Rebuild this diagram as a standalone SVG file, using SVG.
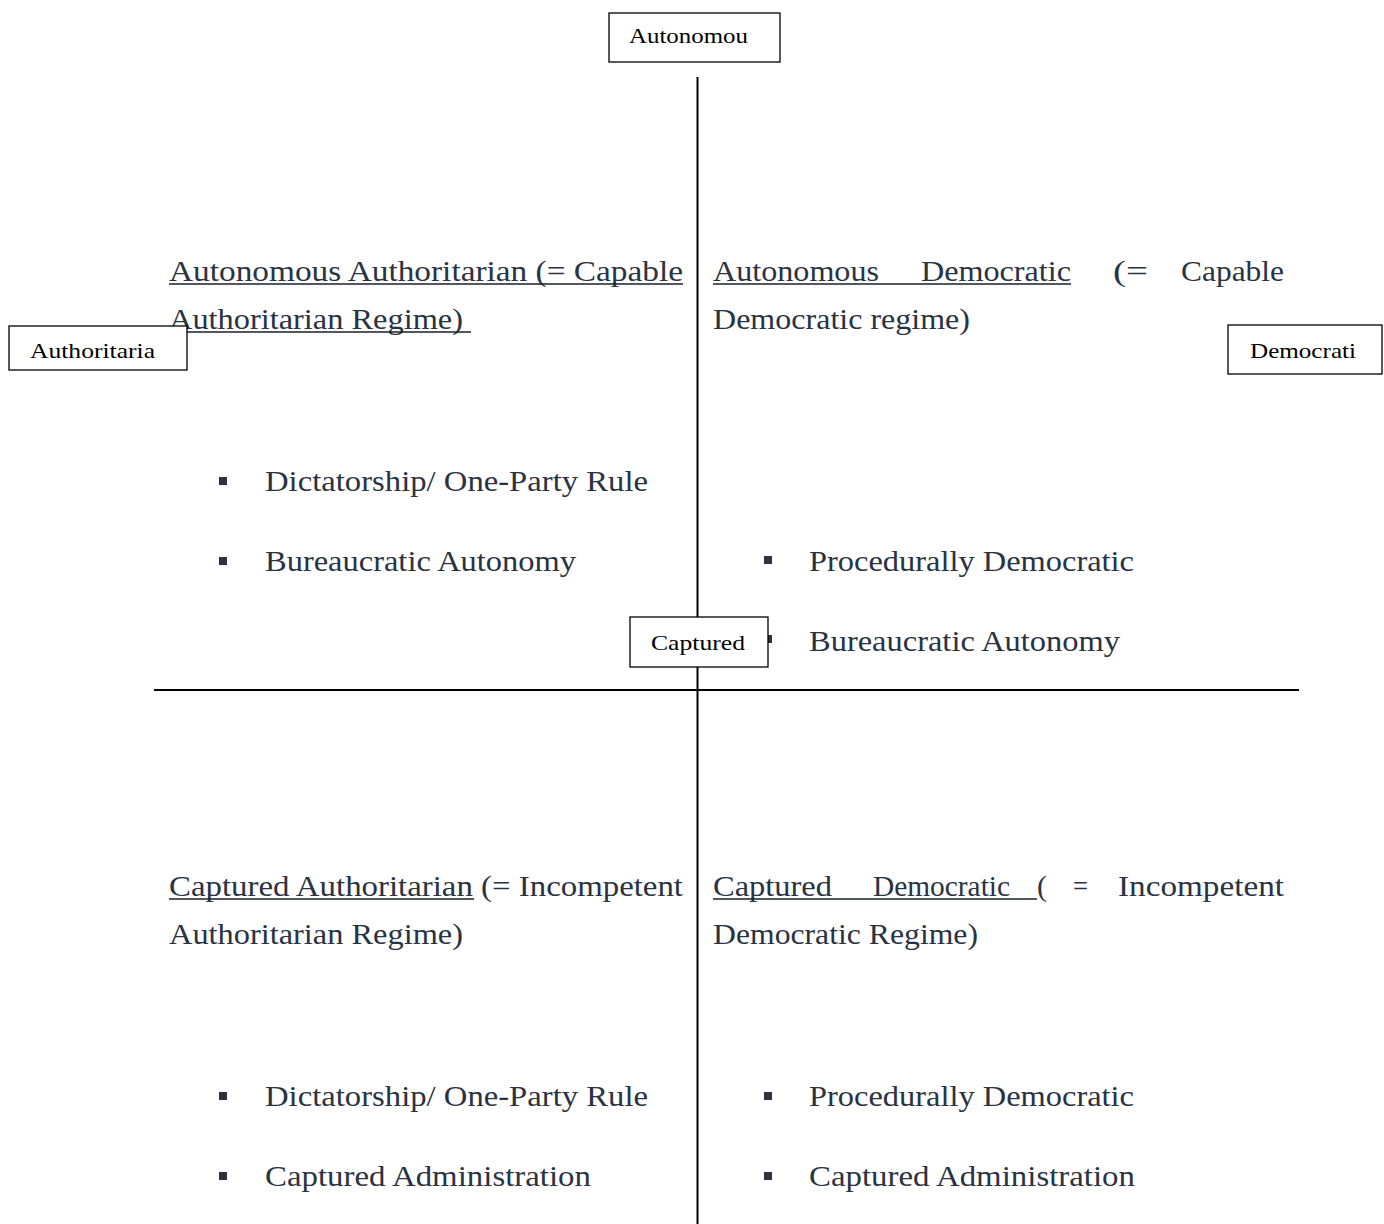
<svg xmlns="http://www.w3.org/2000/svg" width="1384" height="1224" viewBox="0 0 1384 1224">
<style>
.t{font-family:"Liberation Serif","DejaVu Serif",serif;font-size:30px;fill:#2a3342}
.l{font-family:"Liberation Serif","DejaVu Serif",serif;font-size:22px;fill:#000}
.u{stroke:#1a1f28;stroke-width:1.5}
.ax{stroke:#000;stroke-width:2}
.box{fill:#fff;stroke:#000;stroke-width:1.3}
.b{fill:#2a3342}
</style>
<g id="connectors">
<line class="ax" x1="697.5" y1="77" x2="697.5" y2="1224"/>
<line class="ax" x1="154" y1="690" x2="1299" y2="690"/>
</g>
<g id="q-autonomous-authoritarian">
<text class="t" x="169" y="281" textLength="514" lengthAdjust="spacingAndGlyphs">Autonomous Authoritarian (= Capable</text>
<line class="u" x1="169" y1="284" x2="683" y2="284"/>
<text class="t" x="169" y="329" textLength="294" lengthAdjust="spacingAndGlyphs">Authoritarian Regime)</text>
<line class="u" x1="169" y1="332" x2="471" y2="332"/>
<rect class="b" x="219" y="477" width="8" height="8"/>
<text class="t" x="265" y="491" textLength="383" lengthAdjust="spacingAndGlyphs">Dictatorship/ One-Party Rule</text>
<rect class="b" x="219" y="557" width="8" height="8"/>
<text class="t" x="265" y="571" textLength="311" lengthAdjust="spacingAndGlyphs">Bureaucratic Autonomy</text>
</g>
<g id="q-autonomous-democratic">
<text class="t" x="713" y="281" textLength="166" lengthAdjust="spacingAndGlyphs">Autonomous</text>
<text class="t" x="921" y="281" textLength="150" lengthAdjust="spacingAndGlyphs">Democratic</text>
<text class="t" x="1113" y="281" textLength="35" lengthAdjust="spacingAndGlyphs">(=</text>
<text class="t" x="1181" y="281" textLength="103" lengthAdjust="spacingAndGlyphs">Capable</text>
<line class="u" x1="713" y1="284" x2="1071" y2="284"/>
<text class="t" x="713" y="329" textLength="257" lengthAdjust="spacingAndGlyphs">Democratic regime)</text>
<rect class="b" x="764" y="556" width="8" height="8"/>
<text class="t" x="809" y="571" textLength="325" lengthAdjust="spacingAndGlyphs">Procedurally Democratic</text>
<rect class="b" x="764" y="635" width="8" height="8"/>
<text class="t" x="809" y="651" textLength="311" lengthAdjust="spacingAndGlyphs">Bureaucratic Autonomy</text>
</g>
<g id="q-captured-authoritarian">
<text class="t" x="169" y="896" textLength="514" lengthAdjust="spacingAndGlyphs">Captured Authoritarian (= Incompetent</text>
<line class="u" x1="169" y1="899" x2="474" y2="899"/>
<text class="t" x="169" y="944" textLength="294" lengthAdjust="spacingAndGlyphs">Authoritarian Regime)</text>
<rect class="b" x="219" y="1092" width="8" height="8"/>
<text class="t" x="265" y="1106" textLength="383" lengthAdjust="spacingAndGlyphs">Dictatorship/ One-Party Rule</text>
<rect class="b" x="219" y="1172" width="8" height="8"/>
<text class="t" x="265" y="1186" textLength="326" lengthAdjust="spacingAndGlyphs">Captured Administration</text>
</g>
<g id="q-captured-democratic">
<text class="t" x="713" y="896" textLength="119" lengthAdjust="spacingAndGlyphs">Captured</text>
<text class="t" x="873" y="896" textLength="137" lengthAdjust="spacingAndGlyphs">Democratic</text>
<text class="t" x="1037" y="896" textLength="10" lengthAdjust="spacingAndGlyphs">(</text>
<text class="t" x="1073" y="896" textLength="15" lengthAdjust="spacingAndGlyphs">=</text>
<text class="t" x="1118" y="896" textLength="166" lengthAdjust="spacingAndGlyphs">Incompetent</text>
<line class="u" x1="713" y1="899" x2="1037" y2="899"/>
<text class="t" x="713" y="944" textLength="265" lengthAdjust="spacingAndGlyphs">Democratic Regime)</text>
<rect class="b" x="764" y="1092" width="8" height="8"/>
<text class="t" x="809" y="1106" textLength="325" lengthAdjust="spacingAndGlyphs">Procedurally Democratic</text>
<rect class="b" x="764" y="1172" width="8" height="8"/>
<text class="t" x="809" y="1186" textLength="326" lengthAdjust="spacingAndGlyphs">Captured Administration</text>
</g>
<g id="label-autonomous">
<rect class="box" x="609" y="13" width="171" height="49"/>
<text class="l" x="629" y="43" textLength="119" lengthAdjust="spacingAndGlyphs">Autonomou</text>
</g>
<g id="label-authoritarian">
<rect class="box" x="9" y="326" width="178" height="44"/>
<text class="l" x="30" y="358" textLength="125" lengthAdjust="spacingAndGlyphs">Authoritaria</text>
</g>
<g id="label-democratic">
<rect class="box" x="1228" y="325" width="154" height="49"/>
<text class="l" x="1250" y="358" textLength="106" lengthAdjust="spacingAndGlyphs">Democrati</text>
</g>
<g id="label-captured">
<rect class="box" x="630" y="617" width="138" height="50"/>
<text class="l" x="651" y="650" textLength="94" lengthAdjust="spacingAndGlyphs">Captured</text>
</g>
</svg>
